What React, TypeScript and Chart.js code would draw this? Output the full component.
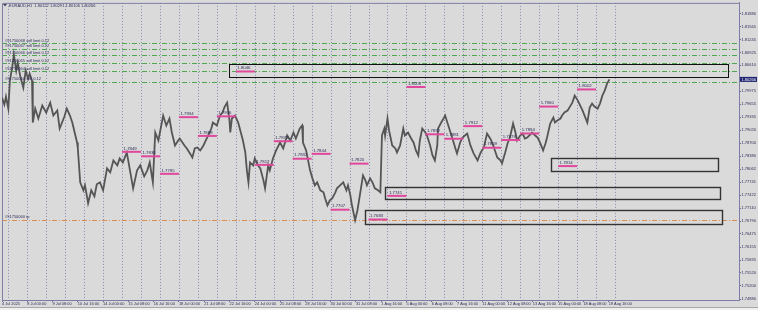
import React, { useEffect, useRef } from "react";
import { Chart, registerables } from "chart.js";

Chart.register(...registerables);

// Hours since 4 Jul 2025 16:00 (H1 bars) and traced EURAUD prices
const hours = [
  0, 3, 5, 8, 10, 13, 15, 18, 20, 23, 27, 30, 33, 35, 38, 39, 42, 46, 51, 56,
  61, 65, 70, 73, 79, 82, 86, 89, 92, 95, 96, 99, 103, 105, 108, 109, 113, 117, 120, 124,
  128, 133, 137, 141, 146, 149, 153, 158, 162, 166, 171, 175, 180, 184, 187, 191, 194, 198, 204, 208,
  212, 215, 219, 223, 225, 231, 234, 238, 241, 244, 247, 251, 255, 258, 261, 265, 267, 272, 276, 279,
  282, 285, 288, 289, 291, 295, 299, 301, 305, 308, 310, 312, 314, 318, 320, 324, 327, 331, 333, 337,
  339, 343, 347, 352, 356, 361, 365, 369, 372, 377, 380, 381, 385, 388, 390, 393, 396, 399, 403, 407,
  409, 412, 415, 418, 422, 424, 428, 432, 436, 438, 441, 443, 447, 450, 453, 457, 460, 462, 466, 469,
  472, 476, 479, 481, 484, 485, 488, 490, 494, 498, 500, 504, 508, 510, 514, 518, 521, 524, 527, 529,
  532, 536, 538, 542, 545, 548, 551, 552, 556, 559, 561, 565, 567, 571, 574, 576, 580, 583, 586, 589,
  593, 597, 602, 606, 610, 614, 618, 621, 624, 627, 631, 633, 637, 640, 643, 647, 650, 652, 656, 659,
  662, 665, 669, 671, 675, 678, 681, 685, 688, 690, 694, 698, 700, 703, 707, 709, 712, 716, 719, 722,
  725, 729, 732, 735, 738, 741, 744, 747, 750, 754, 757, 760, 763, 766, 769,
];
const prices = [
  1.79819, 1.79648, 1.79844, 1.7955, 1.80235, 1.80577, 1.80871, 1.8048, 1.80675, 1.80357,
  1.80064, 1.8048, 1.80284, 1.80406, 1.80235, 1.79208, 1.7955, 1.79306, 1.79624, 1.79453,
  1.79697, 1.79379, 1.79502, 1.79061, 1.79355, 1.7955, 1.79379, 1.79208, 1.78964, 1.78719,
  1.78572, 1.77741, 1.77546, 1.77668, 1.7735, 1.77228, 1.77546, 1.77399, 1.77692, 1.77741,
  1.77546, 1.78083, 1.77986, 1.78279, 1.78157, 1.78328, 1.7823, 1.78475, 1.78035, 1.77594,
  1.78035, 1.78157, 1.77888, 1.78035, 1.7823, 1.77741, 1.78964, 1.78768, 1.79379, 1.79135,
  1.79306, 1.78964, 1.78646, 1.78768, 1.78817, 1.78646, 1.78572, 1.7845, 1.78352, 1.78572,
  1.78597, 1.78524, 1.78646, 1.78768, 1.7889, 1.79061, 1.79208, 1.79135, 1.79379, 1.79453,
  1.79599, 1.79697, 1.79257, 1.78964, 1.79306, 1.79379, 1.79208, 1.79061, 1.78768, 1.78475,
  1.78035, 1.77741, 1.7823, 1.78157, 1.78328, 1.78157, 1.78083, 1.7779, 1.77594, 1.78157,
  1.78035, 1.78328, 1.78524, 1.78719, 1.78572, 1.7889, 1.78768, 1.78964, 1.78817, 1.79061,
  1.79135, 1.78719, 1.78524, 1.7823, 1.78035, 1.77839, 1.77668, 1.77741, 1.77546, 1.77497,
  1.7735, 1.77179, 1.77301, 1.7735, 1.77497, 1.77594, 1.77668, 1.77741, 1.77546, 1.77668,
  1.77423, 1.77179, 1.76812, 1.77057, 1.77423, 1.77912, 1.7779, 1.77668, 1.77839, 1.77741,
  1.77594, 1.77546, 1.77497, 1.7889, 1.79061, 1.7889, 1.79306, 1.79013, 1.78646, 1.78572,
  1.78475, 1.78646, 1.79061, 1.7889, 1.78964, 1.78817, 1.78719, 1.78524, 1.78401, 1.78768,
  1.79061, 1.78964, 1.7889, 1.78646, 1.78401, 1.78279, 1.78646, 1.79061, 1.79208, 1.79306,
  1.79379, 1.79135, 1.79013, 1.78768, 1.78572, 1.7845, 1.78719, 1.78841, 1.7889, 1.78939,
  1.78646, 1.7845, 1.78279, 1.78475, 1.78597, 1.78939, 1.78817, 1.78695, 1.78524, 1.78352,
  1.78279, 1.78206, 1.78475, 1.78695, 1.78841, 1.79184, 1.78964, 1.78768, 1.7889, 1.78939,
  1.78817, 1.78841, 1.78915, 1.78964, 1.7889, 1.78841, 1.78719, 1.78524, 1.78695, 1.78841,
  1.79184, 1.7933, 1.79208, 1.79257, 1.79306, 1.79379, 1.79453, 1.79502, 1.79599, 1.79697,
  1.79868, 1.79746, 1.79624, 1.79502, 1.79355, 1.79208, 1.79575, 1.79673, 1.79599, 1.7955,
  1.79673, 1.79868, 1.7999, 1.80162, 1.80266,
];

const xTickHours = [
  0, 32, 64, 96, 128, 160, 192, 224, 256, 288, 320, 352, 384, 416, 448, 480, 512, 544, 576,
  608, 640, 672, 704, 736, 768,
];
const xTickLabels = [
  "4 Jul 2025", "8 Jul 00:00", "9 Jul 08:00", "10 Jul 16:00", "14 Jul 00:00", "15 Jul 08:00",
  "16 Jul 16:00", "18 Jul 00:00", "21 Jul 08:00", "22 Jul 16:00", "24 Jul 00:00", "25 Jul 08:00",
  "28 Jul 16:00", "30 Jul 00:00", "31 Jul 08:00", "1 Aug 16:00", "5 Aug 00:00", "6 Aug 08:00",
  "7 Aug 16:00", "11 Aug 00:00", "12 Aug 08:00", "13 Aug 16:00", "15 Aug 00:00", "18 Aug 08:00",
  "19 Aug 16:00",
];
const daySeparators = [
  8, 32, 56, 80, 104, 128, 152, 176, 200, 224, 248, 272, 296, 320, 344, 368, 392, 416, 440,
  464, 488, 512, 536, 560, 584, 608, 632, 656, 680, 704, 728, 752, 776,
];
const yTicks = [
  1.7488, 1.752, 1.7552, 1.75835, 1.76155, 1.76475, 1.7679, 1.7711, 1.77422, 1.77741, 1.78062,
  1.7838, 1.787, 1.7902, 1.79335, 1.79655, 1.79975, 1.8029, 1.8061, 1.80925, 1.81245, 1.81565,
  1.8188,
];

const orderLevels = [1.81157, 1.81017, 1.80863, 1.80668, 1.80472, 1.80211];
const orderLabels = [
  "#91750068 sell limit 0.12",
  "#91750067 sell limit 0.12",
  "#91750066 sell limit 0.12",
  "#91750065 sell limit 0.12",
  "#91750064 sell limit 0.12",
  "#91750060 sell 0.12",
];
const tpLevel = 1.76819;
const tpLabel = "#91750060 tp";

// Daily level markers: start hour of the day and level
const levelStart = [
  152, 176, 200, 224, 248, 272, 296, 320, 344, 368, 392, 416, 440, 464, 488, 512, 536, 560,
  584, 608, 632, 656, 680, 704, 728,
];
const levelValues = [
  1.7849, 1.7838, 1.7795, 1.7934, 1.7888, 1.7936, 1.8046, 1.7817, 1.7875, 1.7832, 1.7844,
  1.7707, 1.782, 1.7683, 1.7741, 1.8008, 1.7892, 1.7881, 1.7912, 1.7859, 1.7878, 1.7894,
  1.796, 1.7814, 1.8002,
];

// Zones (rectangles)
const zoneStart = [288, 695, 485, 459];
const zoneEnd = [919, 907, 909, 912];
const zoneHigh = [1.80651, 1.78345, 1.77636, 1.77064];
const zoneLow = [1.80333, 1.78017, 1.77326, 1.76714];

const symbolHeader = "EURAUD,H1  1.80122 1.80291 1.80106 1.80266";
const lastPrice = 1.80266;

const FONT = '"Liberation Sans", "DejaVu Sans", sans-serif';
const TEXT = "#2c2c58";

const overlay = {
  id: "mtOverlay",
  beforeDraw(chart: any) {
    const { ctx, width, height } = chart;
    ctx.save();
    ctx.fillStyle = "#dadada";
    ctx.fillRect(0, 0, width, height);
    ctx.fillStyle = "#efefef";
    ctx.fillRect(0, 307, width, 3);
    ctx.fillStyle = "#a8a8a8";
    ctx.fillRect(0, 307, width, 1);
    ctx.restore();
  },
  beforeDatasetsDraw(chart: any) {
    const { ctx, chartArea, scales } = chart;
    const xs = scales.x;
    const ys = scales.y;
    ctx.save();
    // day separators
    ctx.strokeStyle = "#8a8ab2";
    ctx.lineWidth = 1;
    ctx.setLineDash([1, 2]);
    daySeparators.forEach((h) => {
      const x = Math.round(xs.getPixelForValue(h)) + 0.5;
      ctx.beginPath();
      ctx.moveTo(x, chartArea.top);
      ctx.lineTo(x, chartArea.bottom);
      ctx.stroke();
    });
    // order lines
    ctx.setLineDash([5, 2, 1, 2]);
    ctx.strokeStyle = "#4fa84f";
    orderLevels.forEach((p) => {
      const y = Math.round(ys.getPixelForValue(p)) + 0.5;
      ctx.beginPath();
      ctx.moveTo(chartArea.left, y);
      ctx.lineTo(chartArea.right, y);
      ctx.stroke();
    });
    ctx.strokeStyle = "#d98e52";
    const ty = Math.round(ys.getPixelForValue(tpLevel)) + 0.5;
    ctx.beginPath();
    ctx.moveTo(chartArea.left, ty);
    ctx.lineTo(chartArea.right, ty);
    ctx.stroke();
    ctx.setLineDash([]);
    // frame
    ctx.strokeStyle = "#8080a4";
    ctx.beginPath();
    ctx.moveTo(chartArea.left + 0.5, chartArea.bottom);
    ctx.lineTo(chartArea.left + 0.5, chartArea.top + 0.5);
    ctx.lineTo(chartArea.right, chartArea.top + 0.5);
    ctx.stroke();
    ctx.restore();
  },
  afterDatasetsDraw(chart: any) {
    const { ctx, chartArea, scales } = chart;
    const xs = scales.x;
    const ys = scales.y;
    ctx.save();
    // zones
    zoneStart.forEach((s, i) => {
      const x0 = Math.round(xs.getPixelForValue(s)) + 0.5;
      const x1 = Math.round(xs.getPixelForValue(zoneEnd[i])) + 0.5;
      const y0 = Math.round(ys.getPixelForValue(zoneHigh[i])) + 0.5;
      const y1 = Math.round(ys.getPixelForValue(zoneLow[i])) + 0.5;
      ctx.strokeStyle = i === 0 ? "#111111" : "#333333";
      ctx.lineWidth = i === 0 ? 1 : 1.4;
      ctx.strokeRect(x0, y0, x1 - x0, y1 - y0);
    });
    // daily levels
    ctx.font = `4.3px ${FONT}`;
    ctx.textBaseline = "bottom";
    ctx.textAlign = "left";
    levelStart.forEach((s, i) => {
      const x0 = xs.getPixelForValue(s);
      const x1 = xs.getPixelForValue(s + 24);
      const y = ys.getPixelForValue(levelValues[i]);
      ctx.strokeStyle = "#e0489c";
      ctx.lineWidth = 2;
      ctx.beginPath();
      ctx.moveTo(x0, y);
      ctx.lineTo(x1, y);
      ctx.stroke();
      ctx.fillStyle = TEXT;
      ctx.fillText(levelValues[i].toFixed(4), x0 + 1.5, y - 1.3);
    });
    // order labels
    ctx.font = `4px ${FONT}`;
    ctx.fillStyle = TEXT;
    orderLevels.forEach((p, i) => {
      const y = ys.getPixelForValue(p);
      ctx.fillText(orderLabels[i], chartArea.left + 3, y - 0.6);
    });
    ctx.fillText(tpLabel, chartArea.left + 3, ys.getPixelForValue(tpLevel) - 0.6);
    // header
    ctx.fillStyle = "#404060";
    ctx.beginPath();
    ctx.moveTo(3, 4);
    ctx.lineTo(7, 4);
    ctx.lineTo(5, 6.5);
    ctx.closePath();
    ctx.fill();
    ctx.fillStyle = TEXT;
    ctx.textBaseline = "middle";
    ctx.fillText(symbolHeader, 9, 5.5);
    ctx.restore();
  },
  afterDraw(chart: any) {
    const { ctx, scales } = chart;
    const ys = scales.y;
    const y = ys.getPixelForValue(lastPrice);
    ctx.save();
    ctx.fillStyle = "#1d2470";
    ctx.fillRect(ys.left + 1, y - 2.5, 17, 5);
    ctx.fillStyle = "#ffffff";
    ctx.font = `4px ${FONT}`;
    ctx.textBaseline = "middle";
    ctx.textAlign = "left";
    ctx.fillText(lastPrice.toFixed(5), ys.left + 2.5, y + 0.2);
    ctx.restore();
  },
};

export default function App() {
  const ref = useRef<HTMLCanvasElement | null>(null);
  useEffect(() => {
    if (!ref.current) return;
    const chart = new Chart(ref.current, {
      type: "line",
      data: {
        datasets: [
          {
            data: hours.map((h, i) => ({ x: h, y: prices[i] })),
            borderColor: "#555555",
            borderWidth: 1.8,
            pointRadius: 0,
            tension: 0,
          },
        ],
      },
      options: {
        animation: false,
        responsive: false,
        maintainAspectRatio: false,
        layout: { padding: { left: 2, top: 2, right: 0, bottom: 0 } },
        plugins: { legend: { display: false }, tooltip: { enabled: false } },
        scales: {
          x: {
            type: "linear",
            min: 0,
            max: 933,
            afterBuildTicks: (s: any) => {
              s.ticks = xTickHours.map((v) => ({ value: v }));
            },
            afterFit: (s: any) => {
              s.height = 10;
            },
            ticks: {
              autoSkip: false,
              maxRotation: 0,
              minRotation: 0,
              align: "start",
              padding: 0,
              color: TEXT,
              font: { size: 3.9, family: FONT },
              callback: (_v: any, i: number) => xTickLabels[i],
            },
            grid: { drawOnChartArea: false, tickLength: 2, color: "#7070a0" },
            border: { color: "#7c7ca4" },
          },
          y: {
            type: "linear",
            position: "right",
            min: 1.74856,
            max: 1.82142,
            afterBuildTicks: (s: any) => {
              s.ticks = yTicks.map((v) => ({ value: v }));
            },
            afterFit: (s: any) => {
              s.width = 19;
            },
            ticks: {
              padding: 0.5,
              color: TEXT,
              font: { size: 4, family: FONT },
              callback: (v: any) => Number(v).toFixed(5),
            },
            grid: { drawOnChartArea: false, tickLength: 2, color: "#7070a0" },
            border: { color: "#7c7ca4" },
          },
        },
      },
      plugins: [overlay],
    } as any);
    return () => chart.destroy();
  }, []);
  return (
    <div style={{ position: "fixed", left: 0, top: 0, width: 758, height: 310 }}>
      <canvas ref={ref} width={758} height={310} style={{ display: "block" }} />
    </div>
  );
}
